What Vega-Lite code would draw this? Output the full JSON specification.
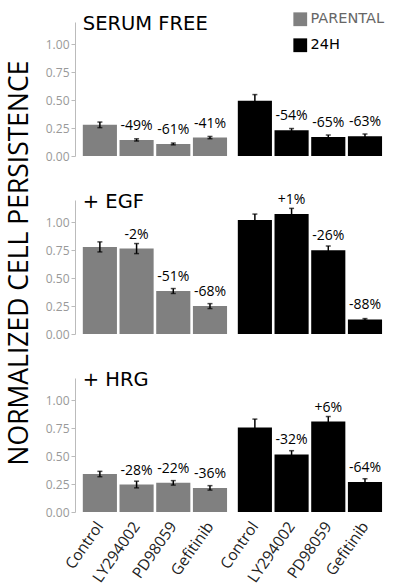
{
  "$schema": "https://vega.github.io/schema/vega-lite/v6.json",
  "padding": {"left": 6, "top": 12, "right": 5, "bottom": 5},
  "background": "white",
  "bounds": "flush",
  "config": {"view": {"stroke": null}},
  "data": {
    "values": [
      {"condition": "SERUM FREE", "group": "PARENTAL", "drug": "Control", "value": 0.279, "err": 0.025, "pct": ""},
      {"condition": "SERUM FREE", "group": "PARENTAL", "drug": "LY294002", "value": 0.144, "err": 0.01, "pct": "-49%"},
      {"condition": "SERUM FREE", "group": "PARENTAL", "drug": "PD98059", "value": 0.108, "err": 0.008, "pct": "-61%"},
      {"condition": "SERUM FREE", "group": "PARENTAL", "drug": "Gefitinib", "value": 0.165, "err": 0.01, "pct": "-41%"},
      {"condition": "SERUM FREE", "group": "24H", "drug": "Control", "value": 0.495, "err": 0.055, "pct": ""},
      {"condition": "SERUM FREE", "group": "24H", "drug": "LY294002", "value": 0.231, "err": 0.015, "pct": "-54%"},
      {"condition": "SERUM FREE", "group": "24H", "drug": "PD98059", "value": 0.171, "err": 0.017, "pct": "-65%"},
      {"condition": "SERUM FREE", "group": "24H", "drug": "Gefitinib", "value": 0.177, "err": 0.02, "pct": "-63%"},
      {"condition": "+ EGF", "group": "PARENTAL", "drug": "Control", "value": 0.78, "err": 0.045, "pct": ""},
      {"condition": "+ EGF", "group": "PARENTAL", "drug": "LY294002", "value": 0.765, "err": 0.045, "pct": "-2%"},
      {"condition": "+ EGF", "group": "PARENTAL", "drug": "PD98059", "value": 0.385, "err": 0.022, "pct": "-51%"},
      {"condition": "+ EGF", "group": "PARENTAL", "drug": "Gefitinib", "value": 0.25, "err": 0.022, "pct": "-68%"},
      {"condition": "+ EGF", "group": "24H", "drug": "Control", "value": 1.02, "err": 0.054, "pct": ""},
      {"condition": "+ EGF", "group": "24H", "drug": "LY294002", "value": 1.075, "err": 0.05, "pct": "+1%"},
      {"condition": "+ EGF", "group": "24H", "drug": "PD98059", "value": 0.75, "err": 0.038, "pct": "-26%"},
      {"condition": "+ EGF", "group": "24H", "drug": "Gefitinib", "value": 0.13, "err": 0.008, "pct": "-88%"},
      {"condition": "+ HRG", "group": "PARENTAL", "drug": "Control", "value": 0.34, "err": 0.024, "pct": ""},
      {"condition": "+ HRG", "group": "PARENTAL", "drug": "LY294002", "value": 0.246, "err": 0.03, "pct": "-28%"},
      {"condition": "+ HRG", "group": "PARENTAL", "drug": "PD98059", "value": 0.261, "err": 0.02, "pct": "-22%"},
      {"condition": "+ HRG", "group": "PARENTAL", "drug": "Gefitinib", "value": 0.216, "err": 0.02, "pct": "-36%"},
      {"condition": "+ HRG", "group": "24H", "drug": "Control", "value": 0.757, "err": 0.075, "pct": ""},
      {"condition": "+ HRG", "group": "24H", "drug": "LY294002", "value": 0.516, "err": 0.033, "pct": "-32%"},
      {"condition": "+ HRG", "group": "24H", "drug": "PD98059", "value": 0.81, "err": 0.045, "pct": "+6%"},
      {"condition": "+ HRG", "group": "24H", "drug": "Gefitinib", "value": 0.268, "err": 0.03, "pct": "-64%"}
    ]
  },
  "facet": {
    "row": {
      "field": "condition", "type": "nominal",
      "sort": ["SERUM FREE", "+ EGF", "+ HRG"],
      "header": {
        "title": "NORMALIZED CELL PERSISTENCE",
        "titleOrient": "left",
        "titleFont": "Open Sans",
        "titleFontSize": 26.5,
        "titleFontWeight": "normal",
        "titleColor": "#000000",
        "titlePadding": 2,
        "labels": false
      }
    },
    "column": {
      "field": "group", "type": "nominal",
      "sort": ["PARENTAL", "24H"],
      "header": {"title": null, "labels": false}
    }
  },
  "spacing": {"row": 44, "column": 1},
  "spec": {
    "width": 154,
    "height": 134,
    "encoding": {
      "x": {
        "field": "drug", "type": "nominal",
        "sort": ["Control", "LY294002", "PD98059", "Gefitinib"],
        "scale": {"paddingInner": 0.07, "paddingOuter": 0.133, "align": 0.8},
        "axis": {
          "title": null, "labelAngle": -55, "domain": false, "ticks": false,
          "labelPadding": 11, "labelFont": "Open Sans", "labelFontSize": 15.5,
          "labelColor": "#222222"
        }
      },
      "y": {
        "field": "value", "type": "quantitative",
        "scale": {"domain": [0, 1.2], "nice": false},
        "axis": {
          "title": null, "values": [0, 0.25, 0.5, 0.75, 1], "format": ".2f",
          "grid": false, "domainColor": "#bbbbbb", "tickColor": "#bbbbbb",
          "tickSize": 4, "labelColor": "#999999", "labelFont": "Open Sans",
          "labelFontSize": 12, "labelPadding": 2
        }
      }
    },
    "layer": [
      {
        "mark": {"type": "bar"},
        "encoding": {
          "color": {
            "field": "group", "type": "nominal",
            "scale": {"domain": ["PARENTAL", "24H"], "range": ["#808080", "#000000"]},
            "legend": {
              "title": null, "orient": "none", "legendX": 218, "legendY": -10,
              "symbolType": "square", "symbolSize": 190, "symbolStrokeWidth": 0,
              "labelFont": "DejaVu Sans", "labelFontSize": 14.5, "rowPadding": 10,
              "labelOffset": 3,
              "encode": {"labels": {"update": {"fill": {"signal": "datum.value === 'PARENTAL' ? '#666666' : '#000000'"}}}}
            }
          }
        }
      },
      {
        "mark": {"type": "errorbar", "ticks": {"size": 5, "thickness": 1.5, "color": "#000000"}, "rule": {"strokeWidth": 1.5, "color": "#000000"}},
        "encoding": {
          "yError": {"field": "err"}
        }
      },
      {
        "mark": {"type": "text", "baseline": "alphabetic", "dy": -10, "font": "Open Sans", "fontSize": 14, "color": "#000000"},
        "encoding": {"text": {"field": "pct"}}
      },
      {
        "transform": [{"filter": "datum.group === 'PARENTAL' && datum.drug === 'Control'"}],
        "mark": {"type": "text", "align": "left", "baseline": "alphabetic", "dy": 8, "font": "DejaVu Sans", "fontSize": 19.5, "color": "#000000"},
        "encoding": {
          "x": {"field": "drug", "type": "nominal", "bandPosition": 0, "sort": ["Control", "LY294002", "PD98059", "Gefitinib"]},
          "y": {"datum": 1.2, "type": "quantitative"},
          "text": {"field": "condition"}
        }
      },
      {
        "mark": {"type": "rule", "color": "#aaaaaa", "strokeWidth": 1},
        "encoding": {"y": {"datum": 0, "type": "quantitative"}}
      }
    ]
  }
}
